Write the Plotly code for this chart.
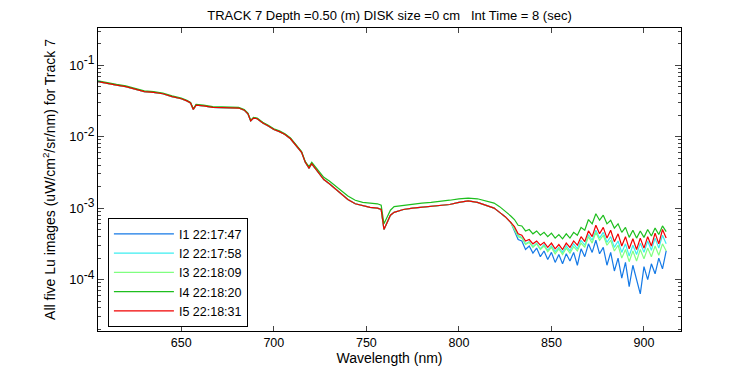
import plotly.graph_objects as go

# ---------------- data (log10 of Lu, uW/cm^2/sr/nm) ----------------
wl_main = [605, 610, 615, 620, 625, 630, 635, 640, 645, 650, 653, 655, 656.5, 658,
           662, 667, 672, 677, 681, 684, 686, 687.5, 689, 691, 694, 697, 700, 703,
           706, 709, 712, 715, 717, 719, 720.5, 722, 724, 727, 730, 733, 736, 740,
           744, 748, 752, 756, 758, 759.5, 761, 763, 765, 770, 775, 780, 785, 790,
           795, 800, 805, 810, 815, 819, 822, 825, 828]

log_main = [-1.23, -1.26, -1.28, -1.30, -1.33, -1.37, -1.38, -1.40, -1.44, -1.47,
            -1.50, -1.53, -1.62, -1.56, -1.57, -1.59, -1.595, -1.60, -1.60, -1.63,
            -1.68, -1.78, -1.74, -1.75, -1.81, -1.85, -1.90, -1.93, -1.97, -2.03,
            -2.12, -2.22, -2.36, -2.44, -2.38, -2.43, -2.50, -2.60, -2.66, -2.73,
            -2.80, -2.88, -2.94, -2.97, -2.99, -3.00, -3.02, -3.30, -3.22, -3.10,
            -3.06, -3.02, -3.00, -2.99, -2.98, -2.97, -2.95, -2.92, -2.90, -2.92,
            -2.96, -3.00, -3.06, -3.12, -3.20]

log_main_i4 = [-1.22, -1.25, -1.27, -1.29, -1.32, -1.36, -1.37, -1.39, -1.43, -1.46,
               -1.49, -1.52, -1.61, -1.55, -1.56, -1.58, -1.585, -1.59, -1.59, -1.62,
               -1.67, -1.77, -1.73, -1.74, -1.80, -1.84, -1.89, -1.92, -1.96, -2.02,
               -2.11, -2.21, -2.35, -2.42, -2.36, -2.41, -2.48, -2.57, -2.62, -2.68,
               -2.75, -2.83, -2.89, -2.92, -2.93, -2.94, -2.96, -3.22, -3.14, -3.03,
               -2.98, -2.96, -2.94, -2.93, -2.92, -2.91, -2.89, -2.87, -2.86, -2.87,
               -2.90, -2.93, -2.98, -3.04, -3.11]

wl_tail = [830, 832, 834, 836, 838, 840, 842, 844, 846, 848, 850, 852, 854, 856,
           858, 860, 862, 864, 866, 868, 870, 872, 874, 876, 878, 880, 882, 884,
           886, 888, 890, 892, 894, 896, 898, 900, 902, 904, 906, 908, 910, 912]

log_tail_i1 = [-3.32, -3.44, -3.46, -3.58, -3.53, -3.63, -3.56, -3.68, -3.60, -3.72,
               -3.62, -3.76, -3.65, -3.78, -3.64, -3.74, -3.62, -3.80, -3.57, -3.68,
               -3.50, -3.62, -3.45, -3.64, -3.55, -3.80, -3.62, -3.88, -3.70, -3.98,
               -3.76, -4.10, -3.80, -4.02, -4.20, -3.82, -4.00, -3.78, -3.92, -3.70,
               -3.85, -3.60]
log_tail_i2 = [-3.29, -3.38, -3.41, -3.50, -3.47, -3.54, -3.49, -3.57, -3.51, -3.59,
               -3.53, -3.61, -3.55, -3.62, -3.53, -3.60, -3.50, -3.57, -3.45, -3.52,
               -3.37, -3.45, -3.31, -3.42, -3.34, -3.48, -3.40, -3.55, -3.46, -3.62,
               -3.50, -3.67, -3.52, -3.65, -3.49, -3.62, -3.46, -3.59, -3.42, -3.56,
               -3.38, -3.50]
log_tail_i3 = [-3.30, -3.40, -3.42, -3.51, -3.48, -3.55, -3.50, -3.58, -3.53, -3.61,
               -3.55, -3.64, -3.57, -3.65, -3.56, -3.63, -3.54, -3.60, -3.49, -3.55,
               -3.40, -3.49, -3.34, -3.45, -3.38, -3.52, -3.45, -3.60, -3.52, -3.70,
               -3.58, -3.75, -3.60, -3.74, -3.58, -3.71, -3.56, -3.68, -3.53, -3.66,
               -3.50, -3.60]
log_tail_i4 = [-3.16, -3.24, -3.25, -3.32, -3.30, -3.36, -3.32, -3.38, -3.34, -3.40,
               -3.35, -3.42, -3.37, -3.43, -3.36, -3.42, -3.34, -3.38, -3.27, -3.31,
               -3.16, -3.22, -3.08, -3.17, -3.10, -3.22, -3.17, -3.28, -3.22, -3.34,
               -3.27, -3.41, -3.31, -3.42, -3.32, -3.41, -3.30, -3.39, -3.28, -3.37,
               -3.25, -3.33]
log_tail_i5 = [-3.26, -3.36, -3.38, -3.46, -3.44, -3.50, -3.46, -3.52, -3.48, -3.55,
               -3.49, -3.57, -3.51, -3.58, -3.49, -3.55, -3.46, -3.52, -3.40, -3.47,
               -3.32, -3.40, -3.24, -3.36, -3.27, -3.42, -3.31, -3.47, -3.36, -3.53,
               -3.40, -3.57, -3.43, -3.58, -3.42, -3.56, -3.40, -3.53, -3.35, -3.50,
               -3.30, -3.42]

names = ["I1 22:17:47", "I2 22:17:58", "I3 22:18:09", "I4 22:18:20", "I5 22:18:31"]
colors = ["#1479E6", "#3CEEF0", "#80FF80", "#1EBE1E", "#F00000"]

x_ticks = [650, 700, 750, 800, 850, 900]
y_major = [1e-4, 1e-3, 1e-2, 1e-1]
y_exps = ["-4", "-3", "-2", "-1"]

series = [
    (log_main, log_tail_i1),
    (log_main, log_tail_i2),
    (log_main, log_tail_i3),
    (log_main_i4, log_tail_i4),
    (log_main, log_tail_i5),
]

fig = go.Figure()
for (main, tail), name, col in zip(series, names, colors):
    xs = wl_main + wl_tail
    ys = [10 ** v for v in (main + tail)]
    fig.add_trace(go.Scatter(x=xs, y=ys, mode="lines", name=name,
                             line=dict(color=col, width=1.2)))

minor_vals = []
for e in range(-5, 0):
    for m in range(2, 10):
        minor_vals.append(m * 10 ** e)

y_major_text = ["10<sup><span style='font-size:12px'>%s</span></sup>" % s for s in y_exps]

font = "Liberation Sans, Arial, sans-serif"
# the page body has an 8px margin, so the figure is 742x367 and offset by 8px
fig.update_layout(
    width=742, height=367,
    margin=dict(l=90, r=69, t=20, b=44),
    paper_bgcolor="white", plot_bgcolor="white",
    font=dict(family=font, size=12.5, color="black"),
    title=dict(text="TRACK 7 Depth =0.50 (m) DISK size =0 cm\u00a0\u00a0\u00a0Int Time = 8 (sec)",
               x=(389.5 - 8) / 742, xanchor="center", y=1 - 7 / 367, yanchor="middle",
               font=dict(size=13)),
    showlegend=True,
    legend=dict(x=0.017, y=0.372, xanchor="left", yanchor="top",
                bgcolor="white", bordercolor="black", borderwidth=1,
                font=dict(size=12.5), itemwidth=60, tracegroupgap=0),
)
fig.update_xaxes(
    range=[605, 920], tickvals=x_ticks, ticks="inside", ticklen=5,
    showline=True, linecolor="black", linewidth=1, mirror="allticks",
    showgrid=False, zeroline=False, automargin=False,
    title=dict(text="Wavelength (nm)", standoff=4, font=dict(size=14)),
)
fig.update_yaxes(
    type="log", range=[-4.72, -0.48],
    tickvals=y_major, ticktext=y_major_text, ticks="inside", ticklen=6,
    minor=dict(tickvals=minor_vals, ticks="inside", ticklen=3, showgrid=False),
    showline=True, linecolor="black", linewidth=1, mirror="allticks",
    showgrid=False, zeroline=False, tickfont=dict(size=13), automargin=False,
    title=dict(text="All five Lu images (uW/cm<sup>2</sup>/sr/nm) for Track 7",
               standoff=10, font=dict(size=14)),
)

fig.write_html("out.html")
